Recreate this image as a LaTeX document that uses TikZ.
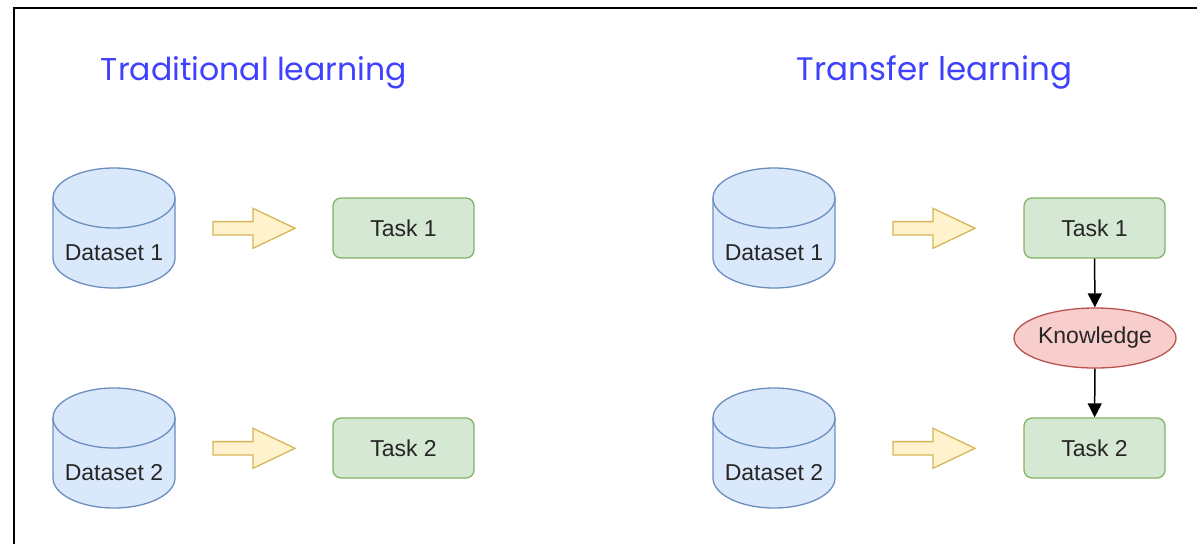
\documentclass[tikz,border=0pt]{standalone}
\usepackage{fontspec}
\setmainfont{Liberation Sans}
\newfontfamily\titlefont{Poppins}
\usetikzlibrary{shapes.geometric,arrows.meta}
\definecolor{dbfill}{HTML}{DAE8FC}
\definecolor{dbline}{HTML}{6C8EBF}
\definecolor{arrfill}{HTML}{FFF2CC}
\definecolor{arrline}{HTML}{D6B656}
\definecolor{taskfill}{HTML}{D5E8D4}
\definecolor{taskline}{HTML}{82B366}
\definecolor{knfill}{HTML}{F8CECC}
\definecolor{knline}{HTML}{B85450}
\definecolor{titleblue}{HTML}{4040FF}
\definecolor{txt}{HTML}{262626}
\tikzset{
  bodyfont/.style={font=\fontsize{23}{27}\selectfont, text=txt},
  taskbox/.style={draw=taskline, fill=taskfill, rounded corners=8pt, minimum width=141pt,
    minimum height=60pt, line width=1.3pt, inner sep=0pt, bodyfont},
  knbox/.style={ellipse, draw=knline, fill=knfill, minimum width=162pt, minimum height=60pt,
    line width=1.3pt, inner sep=0pt, bodyfont},
  dstext/.style={inner sep=0pt, bodyfont},
  titletext/.style={anchor=base, inner sep=0pt, text=titleblue},
  flowarrow/.style={line width=1.5pt, -{Triangle[length=14pt, width=14pt]}},
  db/.pic={
    \path[draw=dbline, fill=dbfill, line width=1.3pt]
      (-61,30) -- (-61,-30) arc[start angle=180, end angle=360, x radius=61, y radius=30]
      -- (61,30) arc[start angle=0, end angle=180, x radius=61, y radius=30] -- cycle;
    \draw[dbline, line width=1.3pt] (-61,30) arc[start angle=180, end angle=360, x radius=61, y radius=30];
  },
  blockarr/.pic={
    \path[draw=arrline, fill=arrfill, line width=1.3pt, line join=miter]
      (0,6.7) -- (40,6.7) -- (40,20) -- (82,0) -- (40,-20) -- (40,-6.7) -- (0,-6.7) -- cycle;
  }
}
\begin{document}
\begin{tikzpicture}[x=1pt,y=1pt]
\useasboundingbox (0,0) rectangle (1197,-544);
% frame
\draw[line width=2pt] (14,-544) -- (14,-8) -- (1197,-8);
% titles
\node[titletext] (t-trad) at (254,-80) {\resizebox{306pt}{!}{\titlefont Traditional learning}};
\node[titletext] (t-trans) at (934.5,-80) {\resizebox{275pt}{!}{\titlefont Transfer learning}};
% left: traditional
\pic at (114,-228) {db};
\node[dstext] (ld1) at (114,-253) {Dataset 1};
\pic at (213,-228.3) {blockarr};
\node[taskbox] (lt1) at (403.5,-228) {Task 1};
\pic at (114,-448) {db};
\node[dstext] (ld2) at (114,-473) {Dataset 2};
\pic at (213,-448.3) {blockarr};
\node[taskbox] (lt2) at (403.5,-448) {Task 2};
% right: transfer
\pic at (774,-228) {db};
\node[dstext] (rd1) at (774,-253) {Dataset 1};
\pic at (893,-228.3) {blockarr};
\node[taskbox] (rt1) at (1094.5,-228) {Task 1};
\pic at (774,-448) {db};
\node[dstext] (rd2) at (774,-473) {Dataset 2};
\pic at (893,-448.3) {blockarr};
\node[taskbox] (rt2) at (1094.5,-448) {Task 2};
\node[knbox] (kn) at (1095,-338) {Knowledge};
\draw[flowarrow] (rt1) -- (kn);
\draw[flowarrow] (kn) -- (rt2);
\end{tikzpicture}
\end{document}
